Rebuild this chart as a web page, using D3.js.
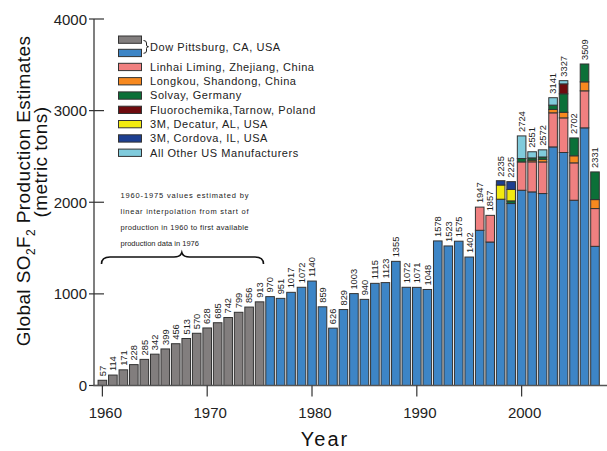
<!doctype html>
<html>
<head>
<meta charset="utf-8"/>
<title>SO2F2 production</title>
<script src="https://d3js.org/d3.v7.min.js"></script>
<style>
  body { margin: 0; background: #fff; }
  text { font-family: "Liberation Sans", Arial, sans-serif; }
</style>
</head>
<body>
<div id="svg01"></div>
<script>
// years shown on the x axis
var years = d3.range(1960, 2008);

// 1960-1975: interpolated estimates (grey)
var estYears = d3.range(1960, 1976);
var estimated = [57, 114, 171, 228, 285, 342, 399, 456, 513, 570, 628, 685, 742, 799, 856, 913];

// 1976-2007: reported producers
var repYears = d3.range(1976, 2008);
var dow = [970, 951, 1017, 1072, 1140, 859, 626, 829, 1003, 940, 1115, 1123, 1355, 1072, 1071, 1048,
           1578, 1523, 1575, 1402, 1694, 1566, 2033, 1986, 2131, 2113, 2095, 2604, 2543, 2022, 2812, 1519];
// the other producers only from 1996 on
var linhai   = [0,0,0,0,0,0,0,0,0,0,0,0,0,0,0,0,0,0,0,0, 253, 291, 0, 0, 309, 328, 345, 372, 378, 408, 404, 412];
var longkou  = [0,0,0,0,0,0,0,0,0,0,0,0,0,0,0,0,0,0,0,0, 0, 0, 0, 0, 0, 18, 29, 37, 61, 77, 98, 98];
var solvay   = [0,0,0,0,0,0,0,0,0,0,0,0,0,0,0,0,0,0,0,0, 0, 0, 0, 29, 37, 25, 25, 47, 201, 195, 195, 302];
var fluoro   = [0,0,0,0,0,0,0,0,0,0,0,0,0,0,0,0,0,0,0,0, 0, 0, 0, 0, 0, 0, 0, 0, 109, 0, 0, 0];
var decatur  = [0,0,0,0,0,0,0,0,0,0,0,0,0,0,0,0,0,0,0,0, 0, 0, 155, 125, 0, 0, 0, 0, 0, 0, 0, 0];
var cordova  = [0,0,0,0,0,0,0,0,0,0,0,0,0,0,0,0,0,0,0,0, 0, 0, 47, 85, 0, 0, 0, 0, 0, 0, 0, 0];
var others   = [0,0,0,0,0,0,0,0,0,0,0,0,0,0,0,0,0,0,0,0, 0, 0, 0, 0, 247, 67, 78, 81, 35, 0, 0, 0];

var seriesKeys = ["dow", "linhai", "longkou", "solvay", "fluoro", "decatur", "cordova", "others"];
var seriesValues = [dow, linhai, longkou, solvay, fluoro, decatur, cordova, others];
var seriesColors = ["#3d85c6", "#f08080", "#f7891f", "#0b7038", "#6e0b0e", "#f2ea10", "#1d3f91", "#80cbdc"];
var estColor = "#827e7e";

var legendLabels = ["Dow Pittsburg, CA, USA", "Linhai Liming, Zhejiang, China", "Longkou, Shandong, China",
  "Solvay, Germany", "Fluorochemika,Tarnow, Poland", "3M, Decatur, AL, USA", "3M, Cordova, IL, USA",
  "All Other US Manufacturers"];

var yTicks = [0, 1000, 2000, 3000, 4000];
var xTicks = [1960, 1970, 1980, 1990, 2000];

var noteLines = ["1960-1975 values estimated by", "linear interpolation from start of",
  "production in 1960 to first available", "production data in 1976"];

var svg = d3.select("#svg01")
    .append("svg")
    .attr("width", 607)
    .attr("height", 451);

var x = d3.scaleLinear().domain([1959.2, 2008.05]).range([94, 606]);
var y = d3.scaleLinear().domain([0, 4000]).range([385.5, 19]);
var bw = 8.6;

// table for stacking
var table = repYears.map(function(yr, i) {
  var row = { year: yr };
  seriesKeys.forEach(function(k, j) { row[k] = seriesValues[j][i]; });
  return row;
});
var stacked = d3.stack().keys(seriesKeys)(table);

// grey estimated bars
svg.append("g").selectAll("rect")
  .data(estimated)
  .enter().append("rect")
  .attr("x", function(d, i) { return x(estYears[i]) - bw / 2; })
  .attr("y", function(d) { return y(d); })
  .attr("width", bw)
  .attr("height", function(d) { return y(0) - y(d); })
  .attr("fill", estColor)
  .attr("stroke", "#333")
  .attr("stroke-width", 1);

// stacked reported bars
stacked.forEach(function(s, j) {
  svg.append("g").selectAll("rect")
    .data(s.filter(function(d) { return d[1] - d[0] > 0; }))
    .enter().append("rect")
    .attr("x", function(d) { return x(d.data.year) - bw / 2; })
    .attr("y", function(d) { return y(d[1]); })
    .attr("width", bw)
    .attr("height", function(d) { return y(d[0]) - y(d[1]); })
    .attr("fill", seriesColors[j])
    .attr("stroke", "#333")
    .attr("stroke-width", 1);
});

// value labels over each bar
var totals = estimated.map(function(v, i) { return { year: estYears[i], v: v }; })
  .concat(table.map(function(r) {
    return { year: r.year, v: d3.sum(seriesKeys, function(k) { return r[k]; }) };
  }));

svg.append("g").selectAll("text")
  .data(totals)
  .enter().append("text")
  .attr("transform", function(d) { return "translate(" + (x(d.year) + 3.3) + "," + (y(d.v) - 4) + ") rotate(-90)"; })
  .attr("font-size", 9.3)
  .attr("fill", "#222")
  .text(function(d) { return d.v; });

// axes
var yAxis = svg.append("g");
yAxis.append("line").attr("x1", 94).attr("x2", 94).attr("y1", y(4000)).attr("y2", y(0) + 0.5)
  .attr("stroke", "#555").attr("stroke-width", 1.5);
yAxis.selectAll(".tk").data(yTicks).enter().append("line")
  .attr("x1", 89).attr("x2", 104)
  .attr("y1", function(d) { return y(d); }).attr("y2", function(d) { return y(d); })
  .attr("stroke", "#333").attr("stroke-width", 1.2);
yAxis.selectAll(".lb").data(yTicks).enter().append("text")
  .attr("x", 87).attr("y", function(d) { return y(d) + 5.5; })
  .attr("text-anchor", "end").attr("font-size", 15).attr("fill", "#222")
  .text(function(d) { return d; });

var xAxis = svg.append("g");
xAxis.append("line").attr("x1", 93.25).attr("x2", 607).attr("y1", y(0)).attr("y2", y(0))
  .attr("stroke", "#555").attr("stroke-width", 1.5);
xAxis.selectAll(".tk").data(xTicks).enter().append("line")
  .attr("x1", function(d) { return x(d); }).attr("x2", function(d) { return x(d); })
  .attr("y1", y(0)).attr("y2", y(0) + 11)
  .attr("stroke", "#333").attr("stroke-width", 1.2);
xAxis.selectAll(".lb").data(xTicks).enter().append("text")
  .attr("x", function(d) { return x(d) + 3; }).attr("y", 418)
  .attr("text-anchor", "middle").attr("font-size", 15).attr("fill", "#222")
  .text(function(d) { return d; });

// axis titles
svg.append("text")
  .attr("x", 325).attr("y", 446)
  .attr("text-anchor", "middle").attr("font-size", 20).attr("letter-spacing", 2).attr("fill", "#111")
  .text("Year");

var yl = svg.append("text")
  .attr("transform", "translate(30,191) rotate(-90)")
  .attr("text-anchor", "middle").attr("font-size", 19).attr("letter-spacing", 0.4).attr("fill", "#111");
yl.append("tspan").text("Global SO");
yl.append("tspan").attr("font-size", 12).attr("dy", 5).text("2");
yl.append("tspan").attr("dy", -5).text("F");
yl.append("tspan").attr("font-size", 12).attr("dy", 5).text("2");
yl.append("tspan").attr("dy", -5).text(" Production Estimates");

svg.append("text")
  .attr("transform", "translate(47,162) rotate(-90)")
  .attr("text-anchor", "middle").attr("font-size", 19).attr("letter-spacing", 0.4).attr("fill", "#111")
  .text("(metric tons)");

// legend
var swatchColors = [estColor].concat(seriesColors);
svg.append("g").selectAll("rect")
  .data(swatchColors)
  .enter().append("rect")
  .attr("x", 118.5)
  .attr("y", function(d, i) { return i < 2 ? 36 + i * 13.3 : 63.3 + (i - 2) * 14.3; })
  .attr("width", 23)
  .attr("height", 7.3)
  .attr("fill", function(d) { return d; })
  .attr("stroke", "#333")
  .attr("stroke-width", 1);

svg.append("g").selectAll("text")
  .data(legendLabels)
  .enter().append("text")
  .attr("x", 150)
  .attr("y", function(d, i) { return i == 0 ? 50.5 : 70.7 + (i - 1) * 14.3; })
  .attr("font-size", 11).attr("letter-spacing", 0.55).attr("fill", "#222")
  .text(function(d) { return d; });

svg.append("path")
  .attr("d", "M143.5,40.5 Q146.5,40.5 146.5,43 L146.5,45 Q146.5,46.7 148.5,46.7 Q146.5,46.7 146.5,48.5 L146.5,51 Q146.5,53.3 143.5,53.3")
  .attr("fill", "none").attr("stroke", "#222").attr("stroke-width", 1);

// note with brace
svg.append("g").selectAll("text")
  .data(noteLines)
  .enter().append("text")
  .attr("x", 120.5)
  .attr("y", function(d, i) { return 197.5 + i * 16.1; })
  .attr("font-size", 7.5).attr("fill", "#222")
  .each(function(d, i) {
    if (i < 3) d3.select(this).attr("textLength", 128).attr("lengthAdjust", "spacing");
  })
  .text(function(d) { return d; });

svg.append("path")
  .attr("d", "M101.5,264 Q101.5,257 110,257 L174,257 Q180.5,257 181.8,252.5 Q183,257 189.5,257 L255,257 Q263.5,257 263.5,264")
  .attr("fill", "none").attr("stroke", "#111").attr("stroke-width", 1.6);
</script>
</body>
</html>
